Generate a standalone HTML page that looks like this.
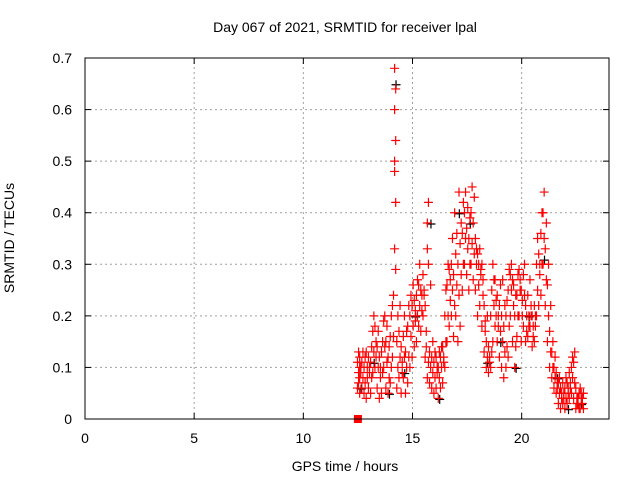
<!DOCTYPE html>
<html><head><meta charset="utf-8">
<style>
body{margin:0;background:#fff;}
svg{display:block;font-family:"Liberation Sans",sans-serif;}
</style></head>
<body>
<svg id="chart" width="640" height="480">
<rect width="640" height="480" fill="#fff"/>
<text x="345" y="32" font-size="14" text-anchor="middle">Day 067 of 2021, SRMTID for receiver lpal</text>
<text x="345" y="471" font-size="14" text-anchor="middle">GPS time / hours</text>
<text transform="translate(14,238) rotate(-90)" font-size="14" text-anchor="middle">SRMTID / TECUs</text>
<g id="grid"></g><g id="black"></g><g id="red"></g>
<rect x="85" y="58" width="524" height="361" fill="none" stroke="#000" stroke-width="1"/>
<g id="ticks"></g>
</svg>
<script>
const xTicks=[0,5,10,15,20];
const yTicks=[0,0.1,0.2,0.3,0.4,0.5,0.6,0.7];
const yTickLabels=["0","0.1","0.2","0.3","0.4","0.5","0.6","0.7"];
const redTimes=[12.5,12.55,12.6,12.7,12.8,12.9,13.0,13.1,13.2,13.3,13.4,13.5,13.6,13.7,13.8,13.9,14.0,14.1,14.2,14.3,14.4,14.5,14.6,14.7,14.8,14.9,15.0,15.1,15.2,15.3,15.4,15.5,15.6,15.7,15.8,15.9,16.0,16.1,16.2,16.3,16.4,16.5,16.6,16.7,16.8,16.9,17.0,17.1,17.2,17.3,17.4,17.5,17.6,17.7,17.8,17.9,18.0,18.1,18.2,18.3,18.4,18.5,18.6,18.7,18.8,18.9,19.0,19.1,19.2,19.3,19.4,19.5,19.6,19.7,19.8,19.9,20.0,20.1,20.2,20.3,20.4,20.5,20.6,20.7,20.8,20.9,21.0,21.1,21.2,21.3,21.4,21.5,21.6,21.7,21.8,21.9,22.0,22.1,22.2,22.3,22.4,22.5,22.6,22.7,22.8];
const redValues=[[.06,.09,.11],[.07,.1,.13,.08],[.05,.09,.12,.1],[.06,.08,.11,.13],[.05,.07,.1,.12],[.04,.08,.13,.1],[.06,.1,.12,.09],[.05,.08,.11,.14],[.09,.13,.17,.2],[.1,.15,.18,.12],[.06,.1,.14,.17],[.04,.08,.12,.1],[.05,.09,.13,.15],[.1,.14,.19,.2],[.06,.11,.15,.18],[.05,.08,.12,.14],[.07,.1,.16,.2],[.12,.16,.22,.24],[.33,.42,.5,.54,.6,.64,.68,.29,.48],[.06,.1,.15,.2],[.08,.12,.17,.22],[.05,.09,.14,.11],[.08,.12,.16,.2],[.05,.1,.13,.17],[.07,.12,.18,.22],[.1,.16,.2,.24],[.12,.18,.22,.26],[.14,.19,.23,.21],[.15,.2,.24,.27],[.18,.22,.26,.3],[.17,.21,.25,.24],[.2,.24,.28,.25],[.12,.17,.22,.14],[.08,.11,.33,.42,.38,.3],[.07,.1,.13,.26],[.06,.09,.12,.15],[.05,.08,.11,.13],[.06,.09,.12,.1],[.04,.08,.1,.13],[.06,.1,.12,.14],[.07,.11,.14,.12],[.1,.15,.2,.25],[.15,.2,.26,.3],[.18,.23,.29,.27],[.2,.25,.3,.35],[.16,.22,.28,.4],[.2,.26,.32,.36],[.15,.24,.3,.44],[.18,.28,.34,.38],[.25,.3,.36,.42],[.3,.35,.4,.44],[.28,.33,.37,.41],[.25,.3,.35,.39],[.3,.34,.4,.45],[.27,.32,.38,.43],[.25,.3,.35,.33],[.2,.26,.32,.3],[.22,.28,.33,.29],[.18,.24,.3,.27],[.13,.17,.22,.19],[.1,.12,.15,.2],[.09,.11,.14,.12],[.1,.13,.2,.25],[.15,.22,.3,.27],[.18,.23,.27,.2],[.15,.2,.24,.18],[.12,.17,.22,.26],[.1,.15,.2,.27],[.08,.13,.18,.22],[.1,.14,.2,.23],[.12,.18,.25,.29],[.2,.25,.28,.3],[.15,.22,.27,.26],[.1,.14,.2,.24],[.16,.2,.24,.28],[.2,.25,.29,.27],[.15,.2,.25,.23],[.18,.24,.28,.3],[.15,.2,.22,.17],[.16,.2,.24,.18],[.18,.22,.27,.2],[.14,.18,.2,.16],[.15,.18,.22,.2],[.2,.25,.3,.35],[.22,.28,.32,.3],[.24,.3,.36,.4],[.3,.35,.4,.44],[.22,.27,.33,.38],[.15,.2,.26,.3],[.1,.13,.17,.22],[.08,.1,.13,.15],[.06,.08,.1,.12],[.05,.07,.09,.06],[.03,.05,.07,.08],[.02,.04,.06,.05],[.03,.05,.07,.04],[.02,.04,.06,.08],[.03,.05,.07,.06],[.04,.06,.09,.07],[.05,.08,.1,.12],[.04,.07,.11,.13],[.02,.04,.06,.03],[.03,.05,.04,.02],[.02,.04,.06,.05],[.03,.05,.04,.02]];
const blackTimes=[12.6,13.2,13.9,14.2,14.6,15.1,15.8,16.2,17.1,17.6,18.4,19.0,19.7,20.3,21.0,21.6,22.1,22.7];
const blackValues=[.06,.11,.05,.65,.09,.2,.38,.04,.4,.38,.11,.15,.1,.2,.31,.08,.02,.03];
const squareTimes=[12.5];
const squareValues=[0];

const NS="http://www.w3.org/2000/svg";
const X0=85,X1=609,Y0=419,Y1=58;
const xs=t=>X0+(t/24)*(X1-X0);
const ys=v=>Y0-(v/0.7)*(Y0-Y1);
function mk(tag,attrs,parent){const e=document.createElementNS(NS,tag);for(const k in attrs)e.setAttribute(k,attrs[k]);parent.appendChild(e);return e;}
const grid=document.getElementById('grid'),ticks=document.getElementById('ticks');
xTicks.forEach(t=>{
  const x=xs(t);
  if(t>0){const g=mk('line',{x1:x,x2:x,y1:Y0,y2:Y1,stroke:'#a0a0a0','stroke-dasharray':'2,3'},grid);
  
  }
  mk('line',{x1:x,x2:x,y1:Y0,y2:Y0-6,stroke:'#000'},ticks);
  mk('line',{x1:x,x2:x,y1:Y1,y2:Y1+6,stroke:'#000'},ticks);
  const l=mk('text',{x:x,y:Y0+24,'font-size':14,'text-anchor':'middle'},ticks);
  l.textContent=t;
  
  
});
yTicks.forEach((v,i)=>{
  const y=ys(v);
  if(v>0&&v<0.7){const g=mk('line',{x1:X0,x2:X1,y1:y,y2:y,stroke:'#a0a0a0','stroke-dasharray':'2,3'},grid);
  
  }
  mk('line',{x1:X0,x2:X0+6,y1:y,y2:y,stroke:'#000'},ticks);
  mk('line',{x1:X1,x2:X1-6,y1:y,y2:y,stroke:'#000'},ticks);
  const l=mk('text',{x:X0-13,y:y+5,'font-size':14,'text-anchor':'end'},ticks);
  l.textContent=yTickLabels[i];
  
  
});
function plus(g,x,y,c){
  return mk('path',{d:`M${x-4.5},${y}H${x+4.5}M${x},${y-4.5}V${y+4.5}`,stroke:c,'stroke-width':1.2,fill:'none'},g);
}
const bg=document.getElementById('black');
blackTimes.forEach((t,i)=>{
  const p=plus(bg,xs(t)+1,ys(blackValues[i])+1,'#000');
  
  
});
const rg=document.getElementById('red');
redTimes.forEach((t,i)=>{
  redValues[i].forEach((v,j)=>{
    const p=plus(rg,xs(t+(j%2?0.03:-0.02)),ys(v),'#f00');
    
    
  });
});
squareTimes.forEach((t,i)=>{
  const r=mk('rect',{x:xs(t)-4,y:ys(squareValues[i])-4,width:8,height:8,fill:'#f00'},rg);
  
  
});
</script>
</body></html>
